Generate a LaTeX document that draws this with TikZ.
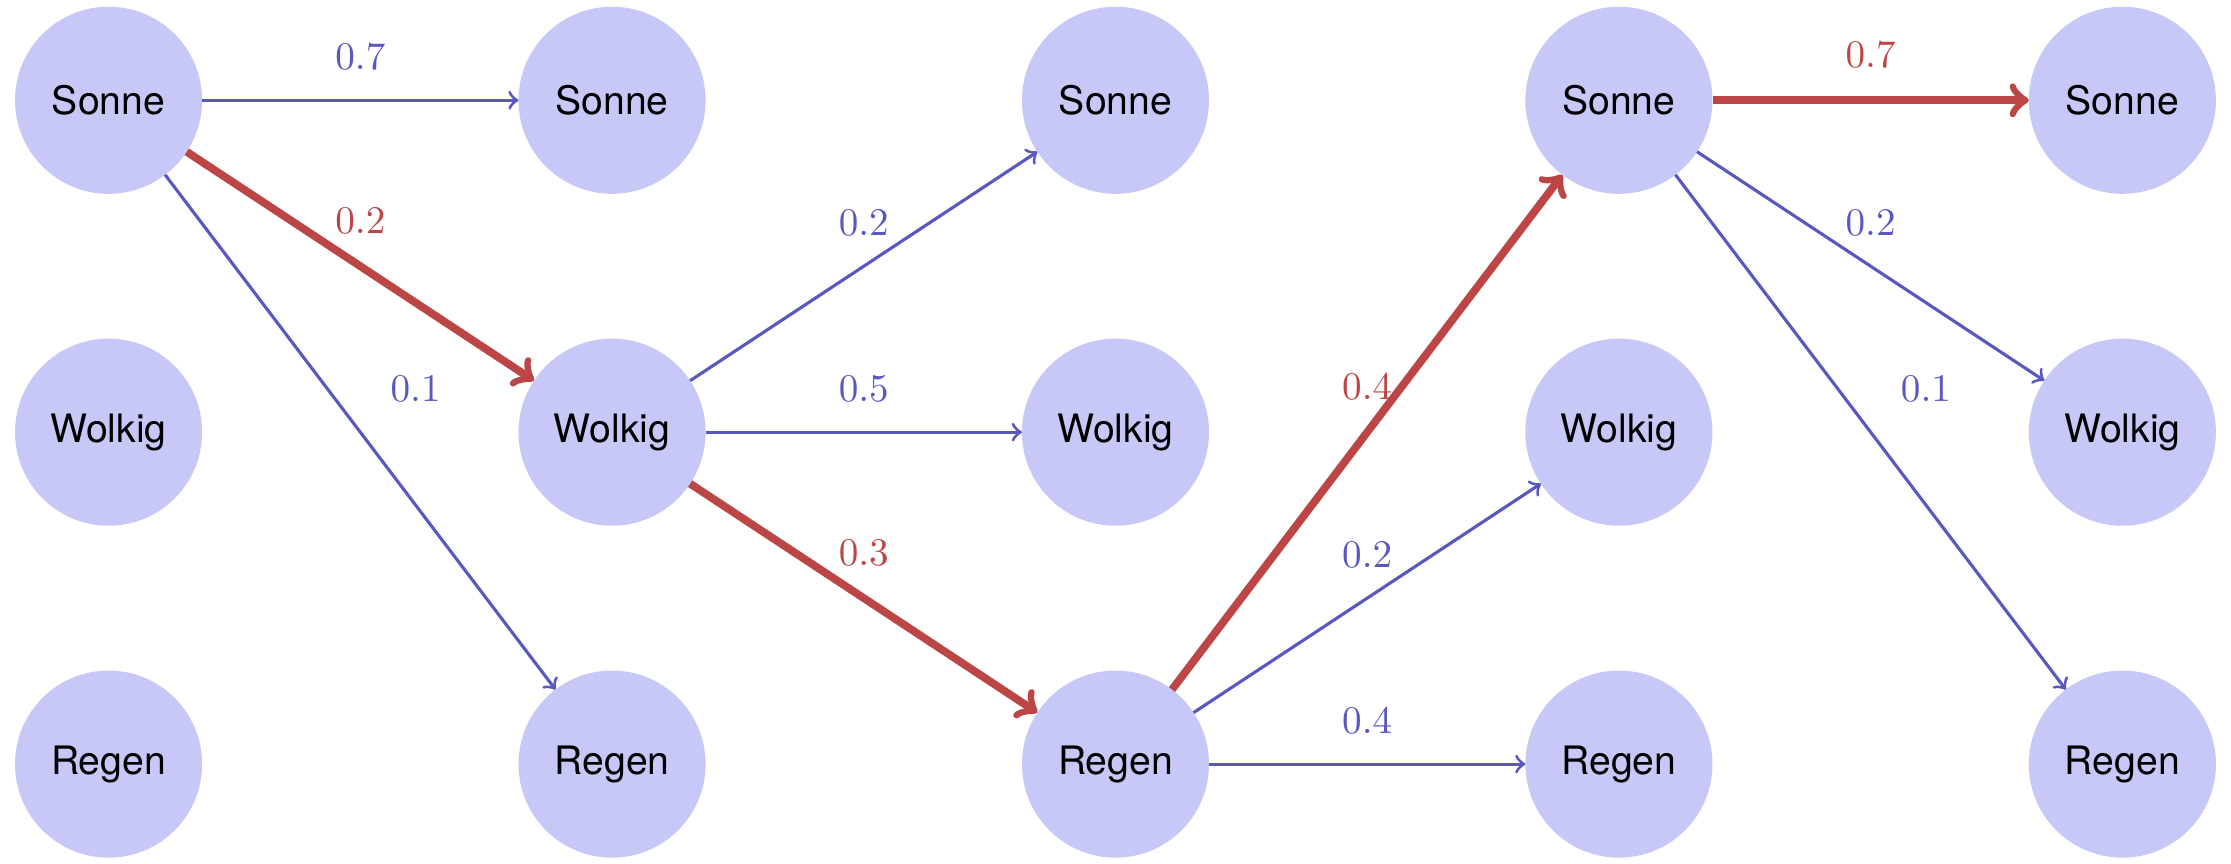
\documentclass[tikz,border=0pt]{standalone}
\usepackage{amsmath}
\usepackage{fontspec}
\newfontfamily\statefont{TeX Gyre Heros}
\usetikzlibrary{matrix}
\definecolor{statefill}{RGB}{200,200,248}
\definecolor{edgeblue}{RGB}{88,88,190}
\definecolor{pathred}{RGB}{188,70,70}
\tikzset{
  state/.style={circle, fill=statefill, minimum size=1.68cm, inner sep=0pt, font=\statefont},
  trans/.style={->, edgeblue, line width=0.8pt},
  best/.style={->, pathred, line width=2pt},
  prob/.style={above=4pt},
  probr/.style={above right=4pt}
}

\begin{document}
\begin{tikzpicture}
      \matrix (m) [matrix of nodes, nodes={state}, column sep=2.84cm, row sep=1.30cm,
                   inner sep=0pt, outer sep=0pt] {
        Sonne  & Sonne  & Sonne  & Sonne  & Sonne  \\
        Wolkig & Wolkig & Wolkig & Wolkig & Wolkig \\
        Regen  & Regen  & Regen  & Regen  & Regen  \\
      } ;
      \path[use as bounding box] ([shift={(-0.135,0.06)}]m.north west) rectangle ([shift={(0.135,-0.055)}]m.south east);
      % step 1
      \draw[trans] (m-1-1) -- node[prob] {$0.7$} (m-1-2);
      \draw[best]  (m-1-1) -- node[prob] {$0.2$} (m-2-2);
      \draw[trans] (m-1-1) -- node[probr] {$0.1$} (m-3-2);
      % step 2
      \draw[trans] (m-2-2) -- node[prob] {$0.2$} (m-1-3);
      \draw[trans] (m-2-2) -- node[prob] {$0.5$} (m-2-3);
      \draw[best]  (m-2-2) -- node[prob] {$0.3$} (m-3-3);
      % step 3
      \draw[best]  (m-3-3) -- node[prob] {$0.4$} (m-1-4);
      \draw[trans] (m-3-3) -- node[prob] {$0.2$} (m-2-4);
      \draw[trans] (m-3-3) -- node[prob] {$0.4$} (m-3-4);
      % step 4
      \draw[best]  (m-1-4) -- node[prob] {$0.7$} (m-1-5);
      \draw[trans] (m-1-4) -- node[prob] {$0.2$} (m-2-5);
      \draw[trans] (m-1-4) -- node[probr] {$0.1$} (m-3-5);
\end{tikzpicture}
\end{document}
